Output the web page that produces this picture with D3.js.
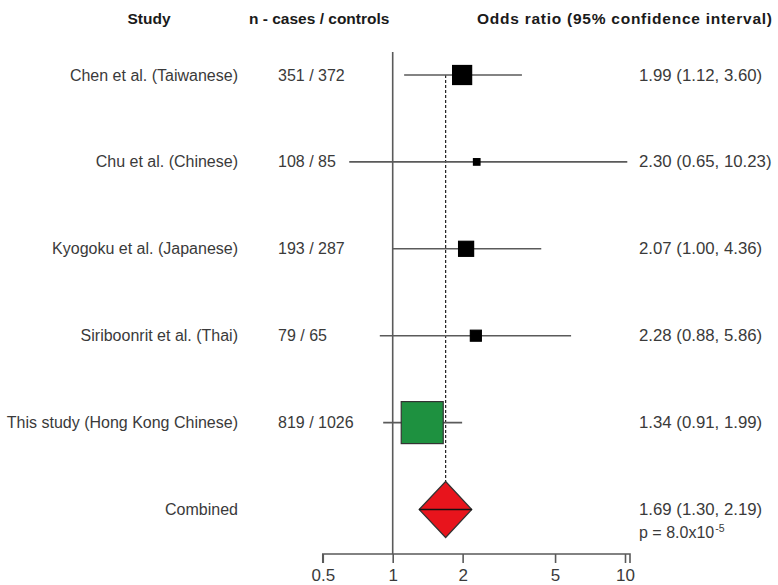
<!DOCTYPE html>
<html><head><meta charset="utf-8">
<script src="https://cdn.jsdelivr.net/npm/d3@7"></script>
<style>
html,body{margin:0;padding:0;background:#fff;}
svg{display:block;font-family:"Liberation Sans",Arial,sans-serif;}
</style></head>
<body><svg id="c" width="778" height="585"></svg>
<script>
// ---- data ----
const studies = ["Chen et al. (Taiwanese)","Chu et al. (Chinese)","Kyogoku et al. (Japanese)","Siriboonrit et al. (Thai)","This study (Hong Kong Chinese)"];
const nLabels = ["351 / 372","108 / 85","193 / 287","79 / 65","819 / 1026"];
const orValues = [1.99, 2.30, 2.07, 2.28, 1.34];
const ciLow = [1.12, 0.65, 1.00, 0.88, 0.91];
const ciHigh = [3.60, 10.23, 4.36, 5.86, 1.99];
const weights = [14.4, 1.7, 9.0, 4.8, 70.1];
const orLabels = ["1.99 (1.12, 3.60)","2.30 (0.65, 10.23)","2.07 (1.00, 4.36)","2.28 (0.88, 5.86)","1.34 (0.91, 1.99)"];
const combined = {label:"Combined", or:1.69, low:1.30, high:2.19, text:"1.69 (1.30, 2.19)", p:"p = 8.0x10", pExp:"-5"};
const ticks = [0.5, 1, 2, 5, 10];
const headers = ["Study","n - cases / controls","Odds ratio (95% confidence interval)"];

// ---- layout ----
const svg = d3.select("#c");
const x = d3.scaleLog().domain([1, 10]).range([392.7, 625]);
const rows = d3.range(studies.length + 1);
const y = d3.scalePoint().domain(rows).range([75, 509.5]);
const size = d3.scaleSqrt().domain([0, d3.max(weights)]).range([0, 42]);
const axisY = 554;
const textCol = "#3a3a3a";
const lineCol = "#5a5a5a";

// headers
const hdr = svg.append("g").attr("font-weight","bold").attr("fill","#1a1a1a").attr("font-size",15.5);
hdr.append("text").attr("x",149).attr("y",24).attr("text-anchor","middle").text(headers[0]);
hdr.append("text").attr("x",249).attr("y",24).text(headers[1]);
hdr.append("text").attr("x",477).attr("y",24).attr("letter-spacing",0.75).text(headers[2]);

// null line at 1
svg.append("line").attr("x1",x(1)).attr("x2",x(1)).attr("y1",52).attr("y2",axisY)
  .attr("stroke",lineCol).attr("stroke-width",1.6);

// dashed combined line
svg.append("line").attr("x1",x(combined.or)).attr("x2",x(combined.or))
  .attr("y1",y(0)).attr("y2",y(5)-28)
  .attr("stroke","#222").attr("stroke-width",1.2).attr("stroke-dasharray","3,2");

// study rows
const g = svg.append("g");
studies.forEach((s,i)=>{
  const yy = y(i);
  g.append("text").attr("x",238).attr("y",yy+5.5).attr("text-anchor","end")
    .attr("font-size",16).attr("fill",textCol).text(s);
  g.append("text").attr("x",278).attr("y",yy+5.5)
    .attr("font-size",16).attr("fill",textCol).text(nLabels[i]);
  g.append("line").attr("x1",x(ciLow[i])).attr("x2",x(ciHigh[i])).attr("y1",yy).attr("y2",yy)
    .attr("stroke",lineCol).attr("stroke-width",1.6);
  const sz = size(weights[i]);
  const last = i === studies.length-1;
  g.append("rect").attr("x",x(orValues[i])-sz/2).attr("y",yy-sz/2).attr("width",sz).attr("height",sz)
    .attr("fill", last ? "#1e9140" : "#000")
    .attr("stroke", last ? "#333" : "#000").attr("stroke-width",1.2);
  g.append("text").attr("x",639).attr("y",yy+5.5)
    .attr("font-size",16.8).attr("fill",textCol).text(orLabels[i]);
});

// combined
const yc = y(5);
svg.append("text").attr("x",238).attr("y",yc+5.5).attr("text-anchor","end")
  .attr("font-size",16).attr("fill",textCol).text(combined.label);
const xl = x(combined.low), xh = x(combined.high), xm = x(combined.or);
svg.append("path").attr("d",`M${xl},${yc} L${xm},${yc-28} L${xh},${yc} L${xm},${yc+28} Z`)
  .attr("fill","#e8141c").attr("stroke","#333").attr("stroke-width",1.2);
svg.append("line").attr("x1",xl).attr("x2",xh).attr("y1",yc).attr("y2",yc)
  .attr("stroke","#111").attr("stroke-width",1.6);
svg.append("text").attr("x",639).attr("y",yc+5.5)
  .attr("font-size",16.8).attr("fill",textCol).text(combined.text);
const pt = svg.append("text").attr("x",639).attr("y",yc+28).attr("font-size",16).attr("fill",textCol);
pt.append("tspan").text(combined.p);
pt.append("tspan").attr("dx",1).attr("dy",-6).attr("font-size",10.5).text(combined.pExp);

// axis
const axis = d3.axisBottom(x).tickValues(ticks).tickFormat(d3.format("")).tickSize(9).tickPadding(6);
const ag = svg.append("g").attr("transform",`translate(0,${axisY})`).call(axis);
ag.select(".domain").attr("d",`M${x(0.5)},9V0H${x(10)+5}V9`).attr("stroke",lineCol).attr("stroke-width",1.6).attr("fill","none");
ag.selectAll(".tick line").attr("stroke",lineCol).attr("stroke-width",1.6);
ag.selectAll(".tick text").attr("font-size",17).attr("fill",textCol).attr("font-family","Liberation Sans, Arial, sans-serif");
</script></body></html>
